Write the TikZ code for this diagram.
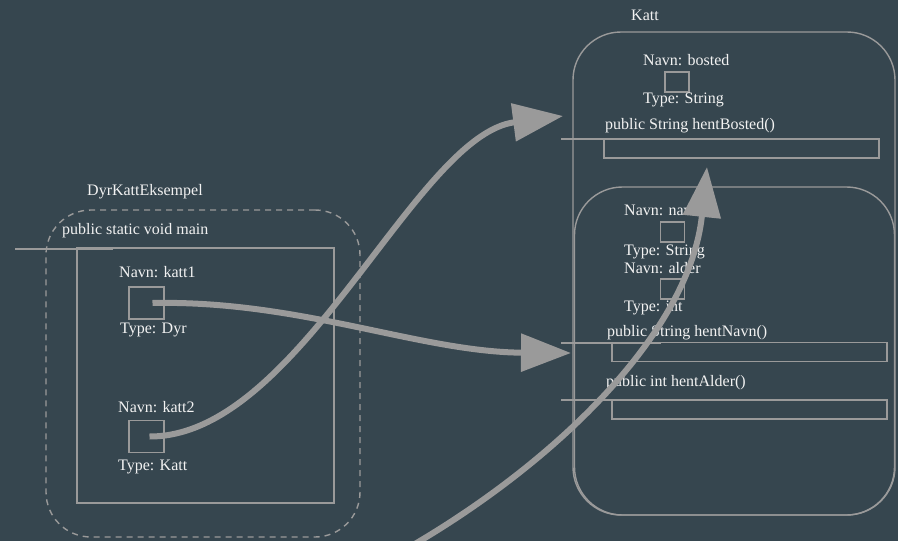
\documentclass[tikz,border=0pt]{standalone}
\usepackage{fontspec}
\setmainfont{Liberation Serif}
\usetikzlibrary{arrows.meta}
\definecolor{bg}{HTML}{36464F}
\definecolor{edge}{HTML}{9A9A9A}
\definecolor{ink}{HTML}{F2F2F2}
\begin{document}
\begin{tikzpicture}[x=1pt,y=-1pt,
  lbl/.style={anchor=base west, inner sep=0pt, text=ink, font=\fontsize{16}{18}\selectfont},
  frame/.style={draw=edge, line width=1.4pt, inner sep=0pt, outer sep=0pt},
  slot/.style={frame, minimum width=35pt, minimum height=32pt},
  smallslot/.style={frame, minimum width=24pt, minimum height=20pt},
  method/.style={frame, minimum width=275pt, minimum height=19pt},
  classbox/.style={frame, rounded corners=48pt},
  lifeline/.style={draw=edge, line width=1.4pt},
  conn/.style={draw=edge, line width=6pt, -{Triangle[length=50pt,width=37pt]}}]
  % canvas
  \fill[bg] (0,0) rectangle (898,541);
  \useasboundingbox (0,0) rectangle (898,541);

  % ---- class DyrKattEksempel ----
  \node[frame, dashed, dash pattern=on 6pt off 5pt, rounded corners=45pt,
        minimum width=314pt, minimum height=327pt] (dke) at (203,373.5) {};
  \node[lbl] (dkeName) at (87,195) {DyrKattEksempel};
  \node[lbl] (mainName) at (62,234) {public static void main};
  \node[frame, minimum width=257pt, minimum height=255pt] (main) at (205.5,375.5) {};
  \coordinate (mainL) at (15,249);
  \coordinate (mainR) at (113,249);
  \draw[lifeline] (mainL) -- (mainR);

  \node[lbl] (k1Name) at (119,277) {Navn: katt1};
  \node[slot] (k1) at (146.5,303) {};
  \node[lbl] (k1Type) at (120,333) {Type: Dyr};
  \node[lbl] (k2Name) at (118,412) {Navn: katt2};
  \node[slot] (k2) at (146.5,436.5) {};
  \node[lbl] (k2Type) at (118,470) {Type: Katt};

  % ---- class Katt ----
  \node[classbox, minimum width=322pt, minimum height=483pt] (katt) at (734,273.5) {};
  \node[lbl] (kattName) at (631,20) {Katt};
  \node[lbl] (bostedName) at (643,65) {Navn: bosted};
  \node[smallslot] (bosted) at (677,82) {};
  \node[lbl] (bostedType) at (643,103) {Type: String};
  \node[lbl] (hbName) at (605,129) {public String hentBosted()};
  \node[method] (hb) at (741.5,148.5) {};
  \coordinate (hbL) at (561,139);
  \coordinate (hbR) at (661,139);
  \draw[lifeline] (hbL) -- (hbR);

  % ---- inherited part (Dyr) ----
  \node[classbox, minimum width=320pt, minimum height=328pt] (dyr) at (734.5,351) {};
  \node[lbl] (navnName) at (624,215) {Navn: navn};
  \node[smallslot] (navn) at (672.5,232) {};
  \node[lbl] (navnType) at (624,255) {Type: String};
  \node[lbl] (alderName) at (624,273) {Navn: alder};
  \node[smallslot] (alder) at (672.5,289) {};
  \node[lbl] (alderType) at (624,311) {Type: int};

  \node[lbl] (hnName) at (607,336) {public String hentNavn()};
  \node[method] (hn) at (749.5,352) {};
  \coordinate (hnL) at (561,343);
  \coordinate (hnR) at (661,343);
  \draw[lifeline] (hnL) -- (hnR);

  \node[lbl] (haName) at (606,386) {public int hentAlder()};
  \node[method] (ha) at (749.5,409.5) {};
  \coordinate (haL) at (561,400);
  \coordinate (haR) at (661,400);
  \draw[lifeline] (haL) -- (haR);

  % ---- references ----
  \coordinate (t1) at (571,353);
  \coordinate (t2) at (563,116);
  \coordinate (s3) at (408,548);
  \coordinate (t3) at (707,167);
  \draw[conn] ([xshift=6pt]k1.center) .. controls (300,300) and (420,352) .. (t1);
  \draw[conn] ([xshift=3pt]k2.center) .. controls (300,437) and (415,135) .. (t2);
  \draw[conn] (s3) .. controls (560,460) and (690,330) .. (t3);
\end{tikzpicture}
\end{document}
